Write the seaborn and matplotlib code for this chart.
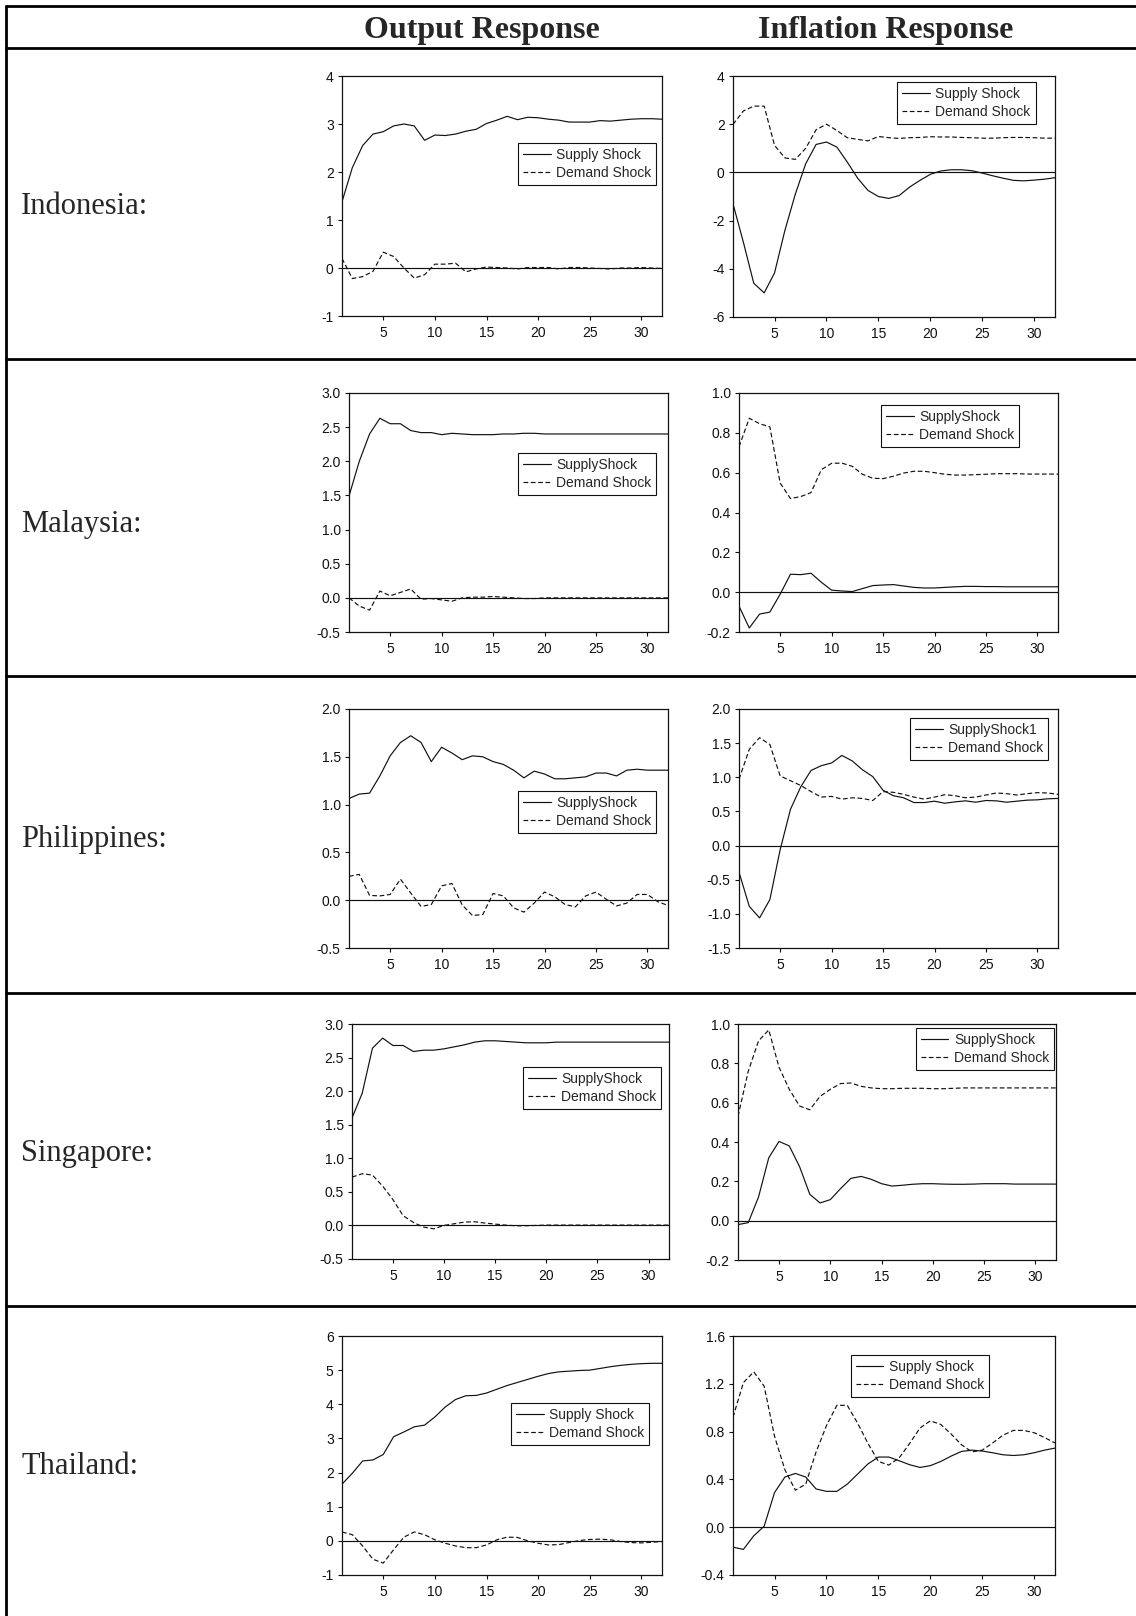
import matplotlib
matplotlib.use("Agg")
import matplotlib.pyplot as plt
from matplotlib.lines import Line2D
from matplotlib.ticker import FormatStrFormatter, MultipleLocator
import numpy as np
import pandas as pd
import seaborn as sns

# ---- data: impulse responses over 32 periods ----
periods = list(range(1, 33))
countries = ["Indonesia:", "Malaysia:", "Philippines:", "Singapore:", "Thailand:"]
column_titles = ["Output Response", "Inflation Response"]

idn_out_supply = [1.38, 2.09, 2.55, 2.79, 2.84, 2.96, 3.00, 2.96, 2.66, 2.77, 2.76, 2.79, 2.85, 2.89, 3.01, 3.08,
                  3.16, 3.09, 3.14, 3.13, 3.10, 3.08, 3.04, 3.04, 3.04, 3.07, 3.06, 3.08, 3.10, 3.11, 3.11, 3.10]
idn_out_demand = [0.20, -0.22, -0.18, -0.07, 0.33, 0.24, 0.00, -0.21, -0.14, 0.08, 0.08, 0.10, -0.08, -0.02, 0.02, 0.01,
                  0.00, -0.02, 0.01, 0.01, 0.01, -0.02, 0.01, 0.01, 0.00, -0.01, -0.02, 0.00, 0.00, 0.01, 0.00, -0.01]
idn_inf_supply = [-1.30, -2.90, -4.60, -5.00, -4.17, -2.40, -0.90, 0.36, 1.16, 1.26, 1.05, 0.43, -0.24, -0.75, -1.00, -1.08,
                  -0.96, -0.61, -0.33, -0.08, 0.06, 0.11, 0.11, 0.07, -0.03, -0.14, -0.24, -0.33, -0.35, -0.32, -0.28, -0.22]
idn_inf_demand = [1.99, 2.55, 2.75, 2.75, 1.12, 0.60, 0.54, 1.00, 1.77, 2.00, 1.74, 1.44, 1.37, 1.31, 1.49, 1.44,
                  1.41, 1.44, 1.45, 1.48, 1.47, 1.47, 1.45, 1.44, 1.42, 1.42, 1.44, 1.45, 1.45, 1.44, 1.42, 1.42]

mys_out_supply = [1.49, 2.00, 2.40, 2.63, 2.55, 2.55, 2.45, 2.42, 2.42, 2.39, 2.41, 2.40, 2.39, 2.39, 2.39, 2.40,
                  2.40, 2.41, 2.41, 2.40, 2.40, 2.40, 2.40, 2.40, 2.40, 2.40, 2.40, 2.40, 2.40, 2.40, 2.40, 2.40]
mys_out_demand = [0.00, -0.12, -0.18, 0.10, 0.03, 0.08, 0.13, -0.02, -0.01, -0.03, -0.05, 0.00, 0.01, 0.01, 0.02, 0.01,
                  0.00, -0.01, -0.01, 0.00, 0.00, 0.00, 0.00, 0.00, 0.00, 0.00, 0.00, 0.00, 0.00, 0.00, 0.00, 0.00]
mys_inf_supply = [-0.07, -0.18, -0.11, -0.10, -0.01, 0.090, 0.088, 0.095, 0.050, 0.010, 0.006, 0.003, 0.018, 0.033, 0.036, 0.038,
                  0.031, 0.024, 0.021, 0.021, 0.024, 0.027, 0.029, 0.029, 0.028, 0.028, 0.027, 0.027, 0.027, 0.027, 0.027, 0.027]
mys_inf_demand = [0.73, 0.873, 0.846, 0.83, 0.548, 0.47, 0.48, 0.50, 0.615, 0.647, 0.648, 0.632, 0.592, 0.572, 0.57, 0.582,
                  0.598, 0.607, 0.607, 0.600, 0.592, 0.588, 0.588, 0.590, 0.592, 0.595, 0.595, 0.595, 0.593, 0.593, 0.593, 0.593]

phl_out_supply = [1.064, 1.11, 1.12, 1.30, 1.51, 1.65, 1.72, 1.65, 1.45, 1.60, 1.54, 1.47, 1.51, 1.50, 1.45, 1.42,
                  1.36, 1.28, 1.35, 1.32, 1.27, 1.27, 1.28, 1.29, 1.33, 1.33, 1.30, 1.36, 1.37, 1.36, 1.36, 1.36]
phl_out_demand = [0.25, 0.27, 0.05, 0.045, 0.06, 0.22, 0.075, -0.065, -0.045, 0.15, 0.175, -0.05, -0.16, -0.15, 0.07, 0.045,
                  -0.08, -0.125, -0.03, 0.085, 0.035, -0.045, -0.07, 0.045, 0.085, 0.01, -0.06, -0.03, 0.06, 0.06, -0.015, -0.055]
phl_inf_supply = [-0.39, -0.89, -1.06, -0.79, -0.06, 0.53, 0.86, 1.10, 1.17, 1.21, 1.32, 1.24, 1.11, 1.01, 0.81, 0.73,
                  0.70, 0.63, 0.63, 0.65, 0.62, 0.64, 0.655, 0.635, 0.66, 0.655, 0.635, 0.65, 0.665, 0.67, 0.685, 0.69]
phl_inf_demand = [0.97, 1.41, 1.58, 1.48, 1.02, 0.95, 0.88, 0.79, 0.71, 0.72, 0.68, 0.70, 0.69, 0.66, 0.79, 0.78,
                  0.75, 0.71, 0.68, 0.71, 0.745, 0.73, 0.70, 0.71, 0.74, 0.77, 0.76, 0.74, 0.76, 0.775, 0.77, 0.75]

sgp_out_supply = [1.60, 1.97, 2.64, 2.79, 2.68, 2.68, 2.59, 2.61, 2.61, 2.63, 2.66, 2.69, 2.73, 2.75, 2.75, 2.74,
                  2.73, 2.72, 2.72, 2.72, 2.73, 2.73, 2.73, 2.73, 2.73, 2.73, 2.73, 2.73, 2.73, 2.73, 2.73, 2.73]
sgp_out_demand = [0.72, 0.77, 0.75, 0.585, 0.385, 0.145, 0.045, -0.025, -0.05, 0.00, 0.025, 0.05, 0.055, 0.035, 0.02, 0.005,
                  -0.005, -0.005, 0.00, 0.005, 0.005, 0.005, 0.005, 0.005, 0.005, 0.005, 0.005, 0.005, 0.005, 0.005, 0.005, 0.005]
sgp_inf_supply = [-0.02, -0.01, 0.12, 0.32, 0.403, 0.38, 0.275, 0.134, 0.09, 0.107, 0.163, 0.215, 0.225, 0.21, 0.188, 0.176,
                  0.18, 0.185, 0.188, 0.188, 0.186, 0.185, 0.185, 0.186, 0.188, 0.188, 0.188, 0.186, 0.186, 0.186, 0.186, 0.186]
sgp_inf_demand = [0.53, 0.76, 0.914, 0.97, 0.78, 0.668, 0.583, 0.564, 0.632, 0.668, 0.697, 0.70, 0.683, 0.675, 0.671, 0.671,
                  0.673, 0.673, 0.673, 0.671, 0.671, 0.673, 0.675, 0.675, 0.675, 0.675, 0.675, 0.675, 0.675, 0.675, 0.675, 0.675]

tha_out_supply = [1.66, 1.98, 2.34, 2.37, 2.53, 3.05, 3.19, 3.34, 3.39, 3.63, 3.92, 4.14, 4.25, 4.26, 4.33, 4.44,
                  4.55, 4.64, 4.73, 4.82, 4.90, 4.95, 4.97, 4.99, 5.00, 5.05, 5.10, 5.14, 5.17, 5.19, 5.20, 5.20]
tha_out_demand = [0.26, 0.18, -0.15, -0.54, -0.65, -0.26, 0.11, 0.26, 0.18, 0.03, -0.07, -0.15, -0.20, -0.20, -0.12, 0.03,
                  0.11, 0.10, 0.00, -0.07, -0.12, -0.11, -0.05, 0.01, 0.04, 0.05, 0.03, -0.02, -0.05, -0.06, -0.04, -0.02]
tha_inf_supply = [-0.167, -0.186, -0.072, 0.008, 0.29, 0.42, 0.45, 0.42, 0.32, 0.30, 0.30, 0.36, 0.445, 0.53, 0.587, 0.587,
                  0.556, 0.523, 0.50, 0.515, 0.55, 0.595, 0.634, 0.645, 0.637, 0.623, 0.606, 0.60, 0.606, 0.623, 0.645, 0.662]
tha_inf_demand = [0.92, 1.21, 1.30, 1.18, 0.76, 0.48, 0.31, 0.36, 0.63, 0.85, 1.02, 1.02, 0.87, 0.70, 0.55, 0.52,
                  0.58, 0.70, 0.83, 0.89, 0.86, 0.78, 0.69, 0.63, 0.645, 0.705, 0.77, 0.81, 0.81, 0.79, 0.75, 0.705]

supply_labels = [["Supply Shock", "Supply Shock"],
                 ["SupplyShock", "SupplyShock"],
                 ["SupplyShock", "SupplyShock1"],
                 ["SupplyShock", "SupplyShock"],
                 ["Supply Shock", "Supply Shock"]]
demand_label = "Demand Shock"

series = [
    [(idn_out_supply, idn_out_demand), (idn_inf_supply, idn_inf_demand)],
    [(mys_out_supply, mys_out_demand), (mys_inf_supply, mys_inf_demand)],
    [(phl_out_supply, phl_out_demand), (phl_inf_supply, phl_inf_demand)],
    [(sgp_out_supply, sgp_out_demand), (sgp_inf_supply, sgp_inf_demand)],
    [(tha_out_supply, tha_out_demand), (tha_inf_supply, tha_inf_demand)],
]

# y-axis range, tick step and label format per panel
y_axes = [
    [(-1, 4, 1, "%d"), (-6, 4, 2, "%d")],
    [(-0.5, 3.0, 0.5, "%.1f"), (-0.2, 1.0, 0.2, "%.1f")],
    [(-0.5, 2.0, 0.5, "%.1f"), (-1.5, 2.0, 0.5, "%.1f")],
    [(-0.5, 3.0, 0.5, "%.1f"), (-0.2, 1.0, 0.2, "%.1f")],
    [(-1, 6, 1, "%d"), (-0.4, 1.6, 0.4, "%.1f")],
]

# ---- layout (pixels on a 1136 x 1616 canvas) ----
W, H = 1136, 1616
panel_boxes = [  # (left, right, top, bottom)
    [(342, 662, 76, 316), (733, 1055, 76, 317)],
    [(349, 668, 393, 632), (739, 1058, 393, 632)],
    [(349, 668, 709, 948), (739, 1058, 709, 948)],
    [(352, 669, 1024, 1259), (738, 1056, 1024, 1260)],
    [(342, 662, 1336, 1575), (733, 1055, 1336, 1575)],
]
legend_anchor = [  # upper-left corner of legend box, axes fraction
    [(0.55, 0.72), (0.51, 0.975)],
    [(0.53, 0.749), (0.445, 0.95)],
    [(0.53, 0.657), (0.536, 0.962)],
    [(0.54, 0.817), (0.559, 0.983)],
    [(0.528, 0.72), (0.366, 0.92)],
]
label_baselines = [214, 532, 847, 1161, 1474]
row_lines = [6, 48, 359, 676, 993, 1306]

sns.set_style("ticks")
plt.rcParams["font.family"] = ["Liberation Sans", "DejaVu Sans"]
plt.rcParams["axes.unicode_minus"] = False

fig = plt.figure(figsize=(W / 100, H / 100), dpi=100)
fig.patch.set_facecolor("white")

line_kw = dict(color="#111111", linewidth=0.85)

for r in range(5):
    for c in range(2):
        L, R, T, B = panel_boxes[r][c]
        ax = fig.add_axes([L / W, 1 - B / H, (R - L) / W, (B - T) / H])
        sup, dem = series[r][c]
        df = pd.DataFrame({"period": periods, "supply": sup, "demand": dem})
        ax.axhline(0, color="#111111", linewidth=0.85, zorder=1)
        sns.lineplot(data=df, x="period", y="supply", ax=ax, label=supply_labels[r][c], **line_kw)
        sns.lineplot(data=df, x="period", y="demand", ax=ax, label=demand_label,
                     linestyle=(0, (4.0, 2.2)), **line_kw)
        ymin, ymax, step, fmt = y_axes[r][c]
        ax.set_xlim(1, 32)
        ax.set_ylim(ymin, ymax)
        ax.xaxis.set_major_locator(MultipleLocator(5))
        ax.yaxis.set_major_locator(MultipleLocator(step))
        ax.yaxis.set_major_formatter(FormatStrFormatter(fmt))
        ax.set_xlabel("")
        ax.set_ylabel("")
        for s in ax.spines.values():
            s.set_visible(True)
            s.set_linewidth(0.9)
            s.set_color("#111111")
        ax.tick_params(axis="both", direction="out", length=3, width=0.8,
                       labelsize=10, colors="#111111", pad=3)
        ax.tick_params(axis="x", pad=4)
        ax.set_facecolor("white")
        ax.grid(False)
        leg = ax.legend(loc="upper left", bbox_to_anchor=legend_anchor[r][c],
                        borderaxespad=0, frameon=True, fancybox=False, shadow=False,
                        fontsize=10, handlelength=2.0, handletextpad=0.4,
                        labelspacing=0.3, borderpad=0.35)
        frame = leg.get_frame()
        frame.set_edgecolor("#111111")
        frame.set_linewidth(0.8)
        frame.set_facecolor("white")
        frame.set_alpha(1)

# ---- table frame, headers and row labels ----
serif = ["Liberation Serif", "DejaVu Serif"]
for y in row_lines:
    fig.add_artist(Line2D([6 / W, 1.0], [1 - y / H, 1 - y / H], transform=fig.transFigure,
                          color="black", linewidth=2.0))
fig.add_artist(Line2D([6 / W, 6 / W], [1 - 6 / H, 0.0], transform=fig.transFigure,
                      color="black", linewidth=2.0))

fig.text(482 / W, 1 - 38 / H, column_titles[0], ha="center", va="baseline",
         fontsize=23, fontweight="bold", family=serif)
fig.text(886 / W, 1 - 38 / H, column_titles[1], ha="center", va="baseline",
         fontsize=23, fontweight="bold", family=serif)

for name, yb in zip(countries, label_baselines):
    fig.text(21 / W, 1 - yb / H, name, ha="left", va="baseline", fontsize=22, family=serif)

fig.savefig("out.png", dpi=100, facecolor="white")
